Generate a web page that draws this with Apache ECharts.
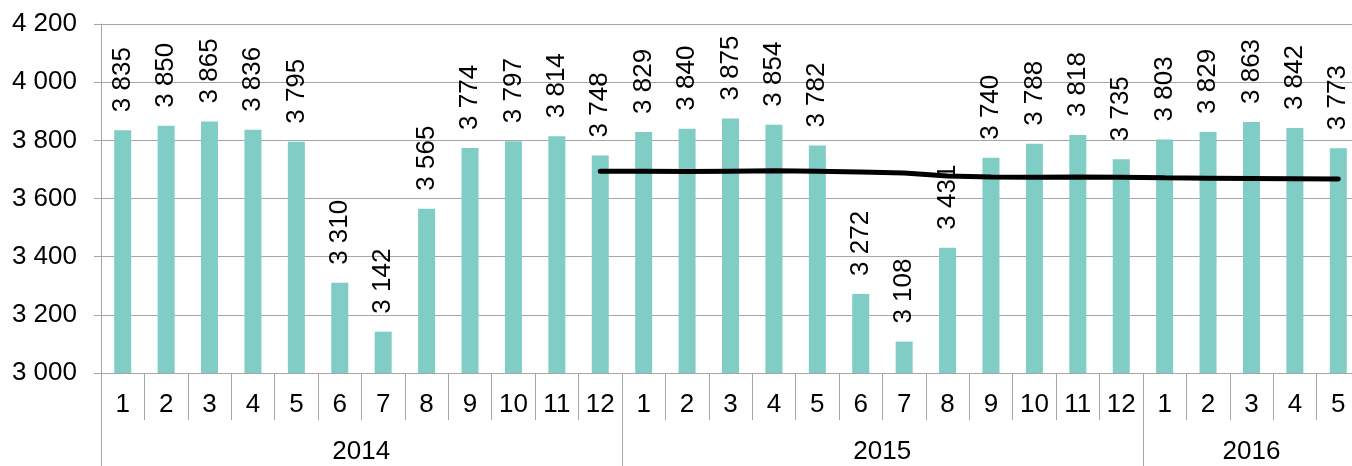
<!DOCTYPE html>
<html>
<head>
<meta charset="utf-8">
<script src="https://cdn.jsdelivr.net/npm/echarts@6/dist/echarts.min.js"></script>
<style>
  html, body { margin: 0; padding: 0; background: #fff; }
  #chart { width: 1352px; height: 466px; }
</style>
</head>
<body>
<div id="chart"></div>
<script>
// == Data ====================================================================

const months = [
  '1', '2', '3', '4', '5', '6', '7', '8', '9', '10', '11', '12',
  '1', '2', '3', '4', '5', '6', '7', '8', '9', '10', '11', '12',
  '1', '2', '3', '4', '5'
]
const years = ['2014', '2015', '2016']
const yearMonths = [12, 12, 5]

const values = [
  3835, 3850, 3865, 3836, 3795, 3310, 3142, 3565, 3774, 3797, 3814, 3748,
  3829, 3840, 3875, 3854, 3782, 3272, 3108, 3431, 3740, 3788, 3818, 3735,
  3803, 3829, 3863, 3842, 3773
]
// 12-month average line
const trend = [
  null, null, null, null, null, null, null, null, null, null, null, 3694,
  3694, 3693, 3694, 3695, 3694, 3691, 3688, 3677, 3674, 3673, 3674, 3673,
  3671, 3670, 3669, 3668, 3667
]

const yTicks = {min: 3000, max: 4200, interval: 200}

// == Helpers =================================================================

const fmt = (v) => String(v).replace(/\B(?=(\d{3})+(?!\d))/g, ' ')

// year row: boundaries and label slots
const yearStart = []
const yearLabel = {}
let pos = 0
yearMonths.forEach((n, i) => {
  yearStart.push(pos)
  // even count -> centre sits on a boundary, use left slot and shift half a band
  const slot = pos + Math.floor((n - 1) / 2)
  yearLabel[slot] = {text: years[i], shift: n % 2 === 0}
  pos += n
})

const font = 'Liberation Sans, Arial, sans-serif'
const gray = '#a6a6a6'
const fs = 26

// == Chart ===================================================================

const myChart = echarts.init(document.getElementById('chart'))

myChart.setOption({
  animation: false,
  grid: {left: 101, width: 1259, top: 24, bottom: 93, containLabel: false, outerBoundsMode: 'none'},
  xAxis: [
    {
      type: 'category',
      data: months,
      position: 'bottom',
      axisLine: {lineStyle: {color: gray, width: 1}},
      axisTick: {show: true, length: 47, interval: 0, lineStyle: {color: gray}},
      axisLabel: {interval: 0, margin: 19, fontSize: fs, color: '#000', fontFamily: font}
    },
    {
      type: 'category',
      data: months,
      position: 'bottom',
      axisLine: {show: false},
      axisTick: {
        show: true,
        length: 93,
        interval: (i) => yearStart.indexOf(i) >= 0,
        lineStyle: {color: gray}
      },
      axisLabel: {
        interval: (i) => yearLabel[i] !== undefined,
        margin: 66,
        fontSize: fs,
        color: '#000',
        fontFamily: font,
        formatter: (v, i) => {
          const y = yearLabel[i]
          if (!y) return ''
          return y.shift ? '{sh|' + y.text + '}' : y.text
        },
        rich: {
          sh: {padding: [0, 0, 0, 43], fontSize: fs, color: '#000', fontFamily: font}
        }
      }
    }
  ],
  yAxis: {
    type: 'value',
    min: yTicks.min,
    max: yTicks.max,
    interval: yTicks.interval,
    axisLine: {show: true, lineStyle: {color: gray}},
    axisTick: {show: true, length: 7, lineStyle: {color: gray}},
    splitLine: {show: true, lineStyle: {color: gray, width: 1}},
    axisLabel: {margin: 24, fontSize: fs, color: '#000', fontFamily: font, formatter: fmt}
  },
  series: [
    {
      type: 'bar',
      data: values,
      barWidth: 17,
      itemStyle: {color: '#7fcdc5'},
      label: {
        show: true,
        position: 'top',
        rotate: 90,
        align: 'left',
        verticalAlign: 'middle',
        distance: 18,
        fontSize: fs,
        color: '#000',
        fontFamily: font,
        formatter: (p) => fmt(p.value)
      }
    },
    {
      type: 'line',
      data: trend,
      showSymbol: false,
      symbol: 'none',
      lineStyle: {color: '#000', width: 5, cap: 'round'},
      z: 5
    }
  ]
})
</script>
</body>
</html>
